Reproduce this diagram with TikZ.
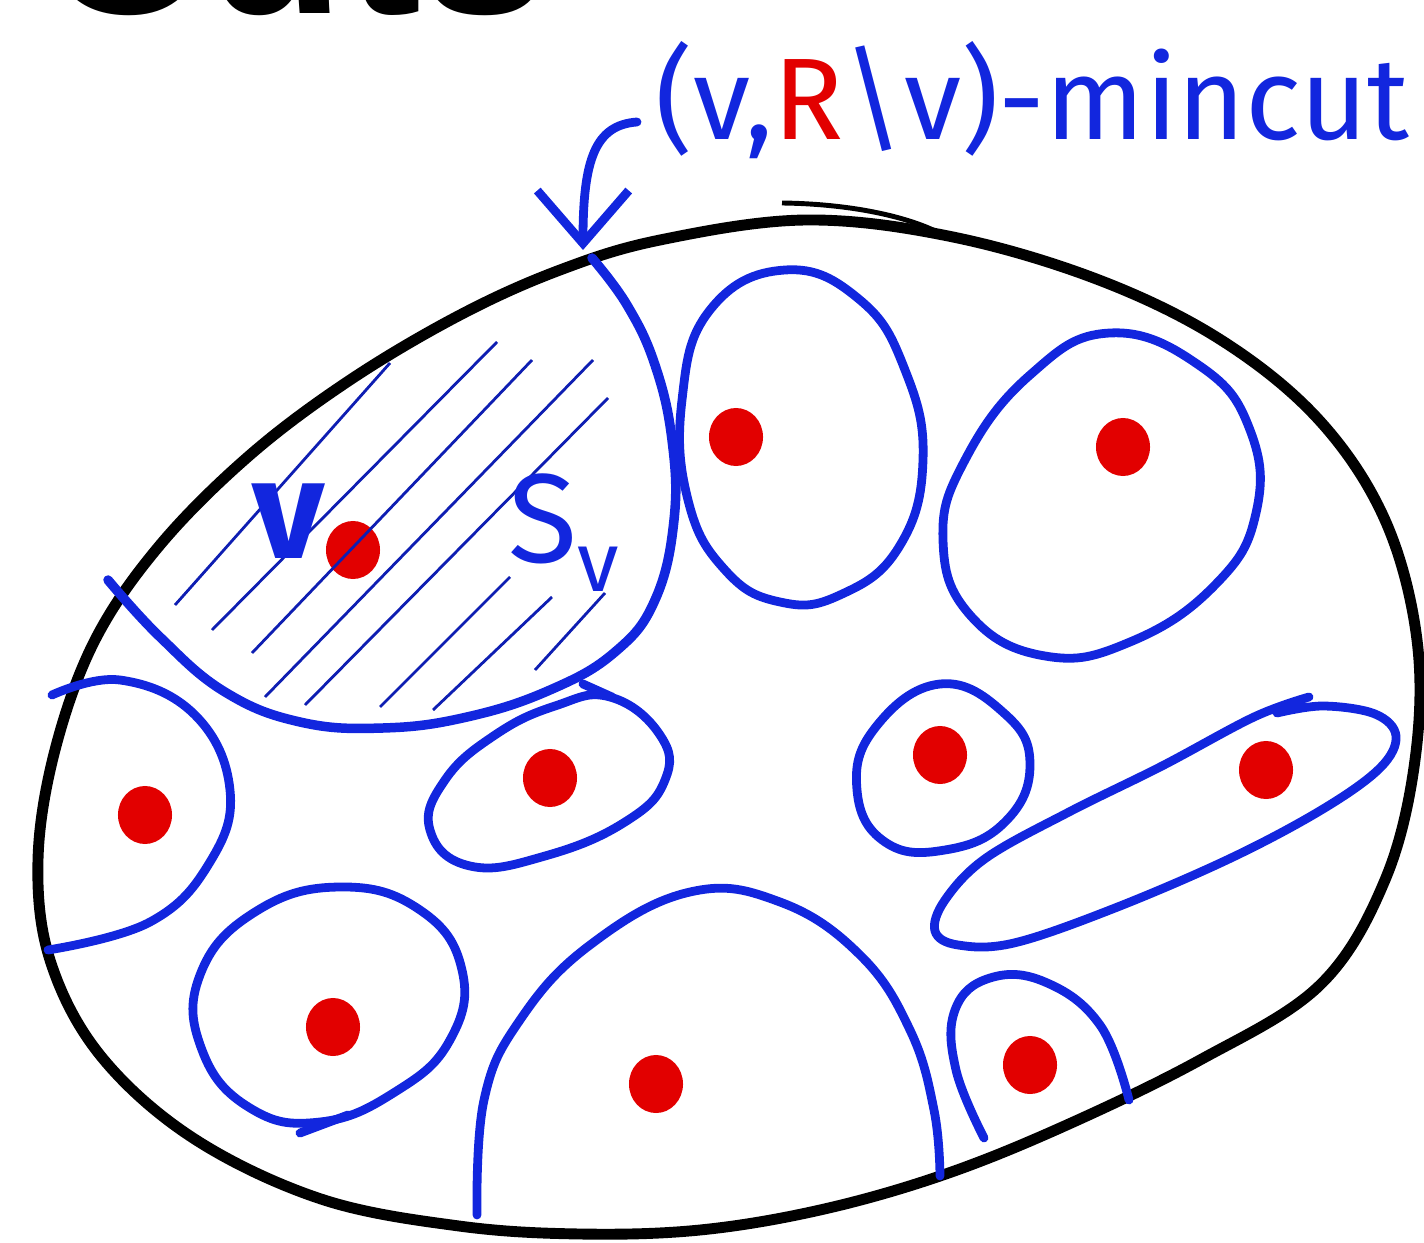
\documentclass[tikz,border=0pt]{standalone}
\usepackage{fontspec}
\setmainfont{Fira Sans}
\newfontfamily\titlefont{Liberation Sans}
\definecolor{cutBlue}{RGB}{18, 38, 222}
\definecolor{termRed}{RGB}{226, 0, 0}
\usetikzlibrary{shapes.geometric, arrows.meta}

\begin{document}
\begin{tikzpicture}[x=0.01cm, y=-0.01cm]
    \tikzset{
        outer/.style={draw=black, line width=3.1pt},
        cell/.style={draw=cutBlue, line width=2.5pt, line cap=round},
        cutline/.style={draw=cutBlue, line width=2.7pt, line cap=round},
        hatch/.style={draw=cutBlue!80!black, line width=0.8pt},
        dot/.style={ellipse, fill=termRed, inner sep=0pt, minimum width=0.54cm, minimum height=0.58cm},
        lbl/.style={text=cutBlue, inner sep=0pt},
        arrow/.style={draw=cutBlue, line width=2.5pt, line cap=round, -{Straight Barb[length=15pt, width=26pt]}}
    }
    \useasboundingbox (0,0) rectangle (1424,1243);

    % heading, cut off at the top
    \node[anchor=base west, inner sep=0pt, font=\titlefont\bfseries\fontsize{65}{72}\selectfont] (title) at (40,14) {Cuts};

    % the graph
    \draw[outer] plot[smooth cycle, tension=0.6] coordinates {(660,240) (806,220) (953,237) (1099,280) (1221,340) (1319,420) (1385,520) (1417,640) (1415,760) (1385,880) (1320,985) (1200,1060) (1060,1128) (940,1176) (820,1210) (700,1230) (580,1234) (459,1226) (321,1199) (193,1138) (100,1055) (50,960) (38,860) (55,750) (95,640) (160,545) (250,455) (350,380) (460,315) (560,270)};
    \draw[outer, line width=1.4pt] (782,203) .. controls (860,204) and (920,220) .. (948,238);

    % the (v, R\v)-mincut
    \draw[cutline] plot[smooth, tension=0.7] coordinates {(108,580) (160,637) (225,692) (300,722) (383,728) (467,717) (550,690) (615,652) (655,600) (674,520) (672,440) (655,365) (627,305) (592,258)};

    % other cells
    \draw[cell] plot[smooth cycle, tension=0.75] coordinates {(785,270) (860,300) (905,370) (923,460) (899,547) (840,595) (780,602) (725,570) (688,500) (682,400) (710,310)};
    \draw[cell] plot[smooth cycle, tension=0.75] coordinates {(1110,333) (1200,366) (1250,430) (1256,513) (1215,585) (1130,642) (1045,656) (970,615) (943,540) (965,460) (1030,375)};
    \draw[cell] plot[smooth, tension=0.7] coordinates {(52,695) (120,680) (195,715) (230,790) (210,862) (150,922) (48,950)};
    \draw[cell] plot[smooth cycle, tension=0.75] coordinates {(610,697) (660,735) (665,780) (625,822) (545,856) (470,866) (430,830) (445,780) (495,735) (555,706)};
    \draw[cell] (583,684) -- (612,697);
    \draw[cell] plot[smooth cycle, tension=0.75] coordinates {(940,684) (1005,714) (1030,765) (1005,822) (945,850) (885,842) (857,790) (875,728)};
    \draw[cell] plot[smooth, tension=0.6] coordinates {(1309,697) (1254,717) (1162,766) (1069,812) (986,858) (945,900) (935,931) (958,945) (1014,943) (1115,908) (1231,858) (1323,809) (1380,768) (1396,736) (1375,714) (1323,706) (1277,713)};
    \draw[cell] plot[smooth cycle, tension=0.75] coordinates {(340,887) (420,910) (462,970) (450,1040) (395,1092) (320,1122) (250,1108) (202,1050) (200,975) (255,912)};
    \draw[cell] (300,1133) -- (348,1115);
    \draw[cell] plot[smooth, tension=0.7] coordinates {(477,1215) (484,1100) (520,1020) (590,945) (690,892) (780,902) (860,955) (910,1030) (934,1110) (940,1176)};
    \draw[cell] plot[smooth, tension=0.7] coordinates {(984,1138) (956,1070) (955,1010) (990,978) (1045,982) (1100,1025) (1129,1100)};

    % terminals R
    \node[dot] (v) at (353,550) {};
    \node[dot] (r2) at (736,437) {};
    \node[dot] (r3) at (1123,447) {};
    \node[dot] (r4) at (145,815) {};
    \node[dot] (r5) at (550,778) {};
    \node[dot] (r6) at (940,755) {};
    \node[dot] (r7) at (1266,770) {};
    \node[dot] (r8) at (333,1027) {};
    \node[dot] (r9) at (656,1084) {};
    \node[dot] (r10) at (1030,1065) {};

    % shading of S_v
    \foreach \a/\b in {{175,605}/{390,363}, {212,630}/{497,342}, {252,653}/{532,360}, {265,697}/{593,360}, {305,705}/{608,398}, {380,707}/{510,577}, {433,710}/{552,597}, {535,670}/{605,593}}
        \draw[hatch] (\a) -- (\b);

    % labels
    \node[lbl, anchor=base, font=\bfseries\fontsize{40}{44}\selectfont] (vlabel) at (289,558) {v};
    \node[lbl, anchor=base west, font=\fontsize{36}{40}\selectfont] (svlabel) at (508,563) {S\raisebox{-8pt}{\fontsize{24}{26}\selectfont v}};
    \node[lbl, anchor=base west, font=\fontsize{33}{36}\selectfont] (mincut) at (655,140) {(v,\textcolor{termRed}{R}\textbackslash v)-mincut};

    \coordinate (astart) at (637,122);
    \coordinate (cuttip) at (583,250);
    \draw[arrow] (astart) .. controls (595,125) and (583,160) .. (cuttip);
\end{tikzpicture}
\end{document}
